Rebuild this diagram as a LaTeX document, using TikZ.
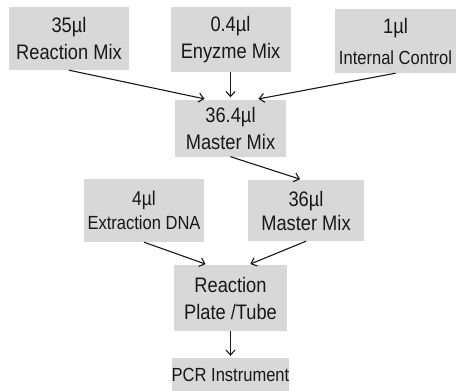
\documentclass[tikz,border=0pt]{standalone}
\usepackage{fontspec}
\setmainfont[FakeStretch=0.87]{Liberation Sans}
\usepackage{tikz}
\usetikzlibrary{positioning, arrows.meta}
\definecolor{boxgray}{RGB}{216,216,216}
\definecolor{inkgray}{RGB}{24,24,24}

\begin{document}
\begin{tikzpicture}[x=1pt, y=1pt, node distance=80pt, on grid,
    box/.style={fill=boxgray, text=inkgray, inner sep=0pt, align=center,
        minimum width=120pt, minimum height=63pt,
        font=\fontsize{21}{27}\selectfont},
    small/.style={font=\fontsize{19}{24}\selectfont},
    flow/.style={-{Straight Barb[length=5pt, width=9pt]}, draw=inkgray, line width=1.1pt, shorten >=2pt}]
    \useasboundingbox (0,0) rectangle (456,-391);
    \node[box, minimum width=111pt, minimum height=57pt] (master1) at (230.5,-128) {36.4µl\\Master Mix};
    \node[box] (rmix) [above left=89.5pt and 161.5pt of master1] {35µl\\Reaction Mix};
    \node[box, minimum height=65pt] (emix) [above=88.5pt of master1] {0.4µl\\Enyzme Mix};
    \node[box, minimum width=121pt, minimum height=64pt] (ictrl) [above right=87pt and 165pt of master1] {1µl\\[4pt]{\fontsize{19}{24}\selectfont Internal Control}};
    \node[box, minimum width=116pt, minimum height=61pt] (master2) [below right=82.5pt and 75.5pt of master1] {36µl\\[-3pt]Master Mix};
    \node[box, small] (dna) [left=162pt of master2] {{\fontsize{20}{24}\selectfont 4µl}\\Extraction DNA};
    \node[box, minimum width=113pt, minimum height=66pt] (plate) [below=170pt of master1] {Reaction\\Plate /Tube};
    \node[box, small, minimum width=114pt, minimum height=33pt] (pcr) [below=76.5pt of plate] {PCR Instrument};

    \draw[flow] (rmix.south) -- ([xshift=-24pt]master1.north);
    \draw[flow] (emix.south) -- (emix.south |- master1.north);
    \draw[flow] (ictrl.south) -- ([xshift=26pt]master1.north);
    \draw[flow] (master1.south) -- ([xshift=-4pt]master2.north);
    \draw[flow] (dna.south) -- ([xshift=-23pt]plate.north);
    \draw[flow] (master2.south) -- ([xshift=18pt]plate.north);
    \draw[flow] (plate.south) -- (pcr.north);
\end{tikzpicture}
\end{document}
